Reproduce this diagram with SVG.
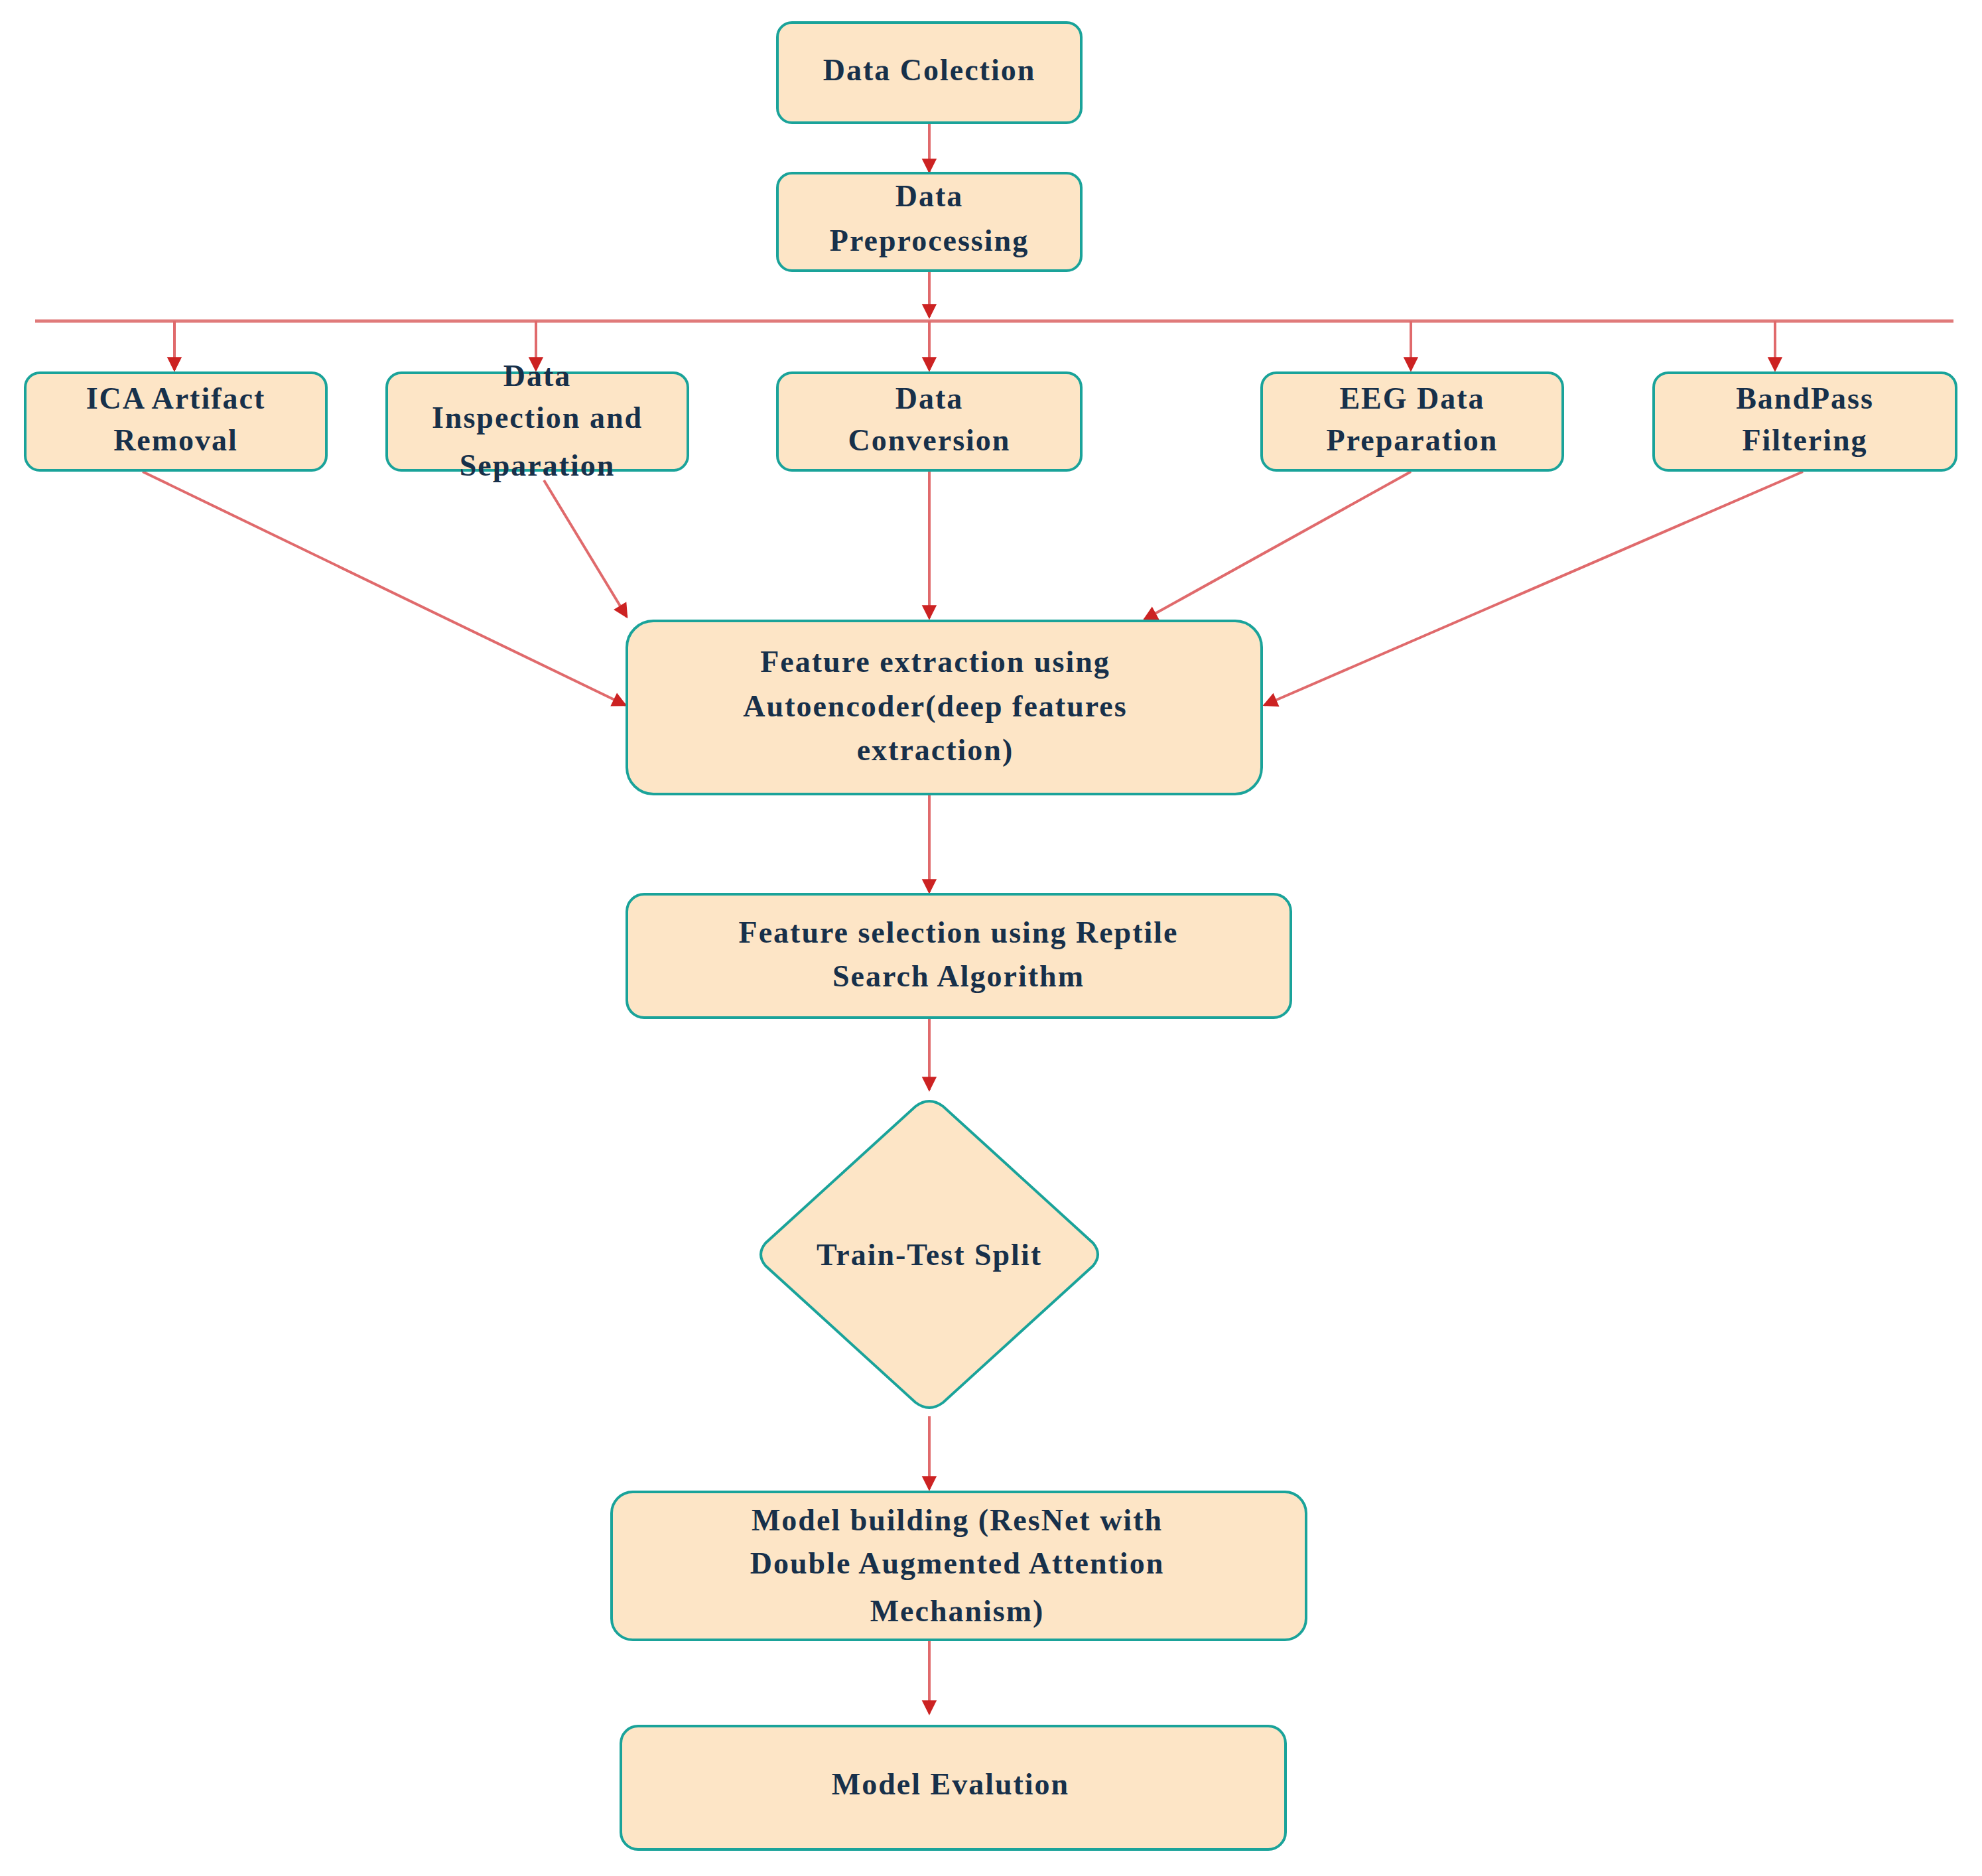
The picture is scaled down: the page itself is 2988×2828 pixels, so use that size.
<svg xmlns="http://www.w3.org/2000/svg" width="2988" height="2828" viewBox="0 0 2988 2828">
<style>
.n{fill:#fde5c6;stroke:#1aa39a;stroke-width:4}
.t{font-family:"Liberation Serif",serif;font-weight:bold;font-size:46px;fill:#17304a;text-anchor:middle;letter-spacing:2px}
.c{stroke:#e06a6c;stroke-width:4;fill:none;marker-end:url(#a)}
</style>
<defs><marker id="a" viewBox="0 0 10 10" refX="9" refY="5" markerWidth="7" markerHeight="7" orient="auto" markerUnits="userSpaceOnUse" style="overflow:visible"><path d="M0,0 L10,5 L0,10 z" fill="#cc2222" transform="scale(3.2) translate(-6,-3.4)"/></marker></defs>
<rect width="2988" height="2828" fill="#fff"/>
<g id="connectors">
<line x1="53" y1="484" x2="2945" y2="484" stroke="#e07a7a" stroke-width="5"/>
<line class="c" x1="1401" y1="185" x2="1401" y2="259"/>
<line class="c" x1="1401" y1="408" x2="1401" y2="478"/>
<line class="c" x1="263" y1="484" x2="263" y2="558"/>
<line class="c" x1="808" y1="484" x2="808" y2="558"/>
<line class="c" x1="1401" y1="484" x2="1401" y2="558"/>
<line class="c" x1="2127" y1="484" x2="2127" y2="558"/>
<line class="c" x1="2676" y1="484" x2="2676" y2="558"/>
<line class="c" x1="215" y1="711" x2="943" y2="1063"/>
<line class="c" x1="820" y1="724" x2="945" y2="930"/>
<line class="c" x1="1401" y1="709" x2="1401" y2="932"/>
<line class="c" x1="2127" y1="711" x2="1725" y2="934"/>
<line class="c" x1="2718" y1="711" x2="1906" y2="1063"/>
<line class="c" x1="1401" y1="1197" x2="1401" y2="1345"/>
<line class="c" x1="1401" y1="1534" x2="1401" y2="1643"/>
<line class="c" x1="1401" y1="2135" x2="1401" y2="2245"/>
<line class="c" x1="1401" y1="2472" x2="1401" y2="2583"/>
</g>
<g id="n1"><rect class="n" x="1172" y="34" width="458" height="151" rx="22"/><text class="t" x="1401" y="121">Data Colection</text></g>
<g id="n2"><rect class="n" x="1172" y="261" width="458" height="147" rx="22"/><text class="t" x="1401" y="311">Data</text><text class="t" x="1401" y="378">Preprocessing</text></g>
<g id="n3"><rect class="n" x="38" y="562" width="454" height="147" rx="22"/><text class="t" x="265" y="616">ICA Artifact</text><text class="t" x="265" y="679">Removal</text></g>
<g id="n4"><rect class="n" x="583" y="562" width="454" height="147" rx="22"/><text class="t" x="810" y="582">Data</text><text class="t" x="810" y="645">Inspection and</text><text class="t" x="810" y="717">Separation</text></g>
<g id="n5"><rect class="n" x="1172" y="562" width="458" height="147" rx="22"/><text class="t" x="1401" y="616">Data</text><text class="t" x="1401" y="679">Conversion</text></g>
<g id="n6"><rect class="n" x="1902" y="562" width="454" height="147" rx="22"/><text class="t" x="2129" y="616">EEG Data</text><text class="t" x="2129" y="679">Preparation</text></g>
<g id="n7"><rect class="n" x="2493" y="562" width="456" height="147" rx="22"/><text class="t" x="2721" y="616">BandPass</text><text class="t" x="2721" y="679">Filtering</text></g>
<g id="n8"><rect class="n" x="945" y="936" width="957" height="261" rx="40"/><text class="t" x="1410" y="1013">Feature extraction using</text><text class="t" x="1410" y="1080">Autoencoder(deep features</text><text class="t" x="1410" y="1146">extraction)</text></g>
<g id="n9"><rect class="n" x="945" y="1348" width="1001" height="186" rx="26"/><text class="t" x="1445" y="1421">Feature selection using Reptile</text><text class="t" x="1445" y="1487">Search Algorithm</text></g>
<g id="n10"><path class="n" d="M1380,1668 Q1401,1652 1422,1668 L1648,1874 Q1662,1891 1648,1908 L1422,2114 Q1401,2130 1380,2114 L1154,1908 Q1140,1891 1154,1874 Z"/><text class="t" x="1401" y="1907">Train-Test Split</text></g>
<g id="n11"><rect class="n" x="922" y="2249" width="1047" height="223" rx="32"/><text class="t" x="1443" y="2307">Model building (ResNet with</text><text class="t" x="1443" y="2372">Double Augmented Attention</text><text class="t" x="1443" y="2444">Mechanism)</text></g>
<g id="n12"><rect class="n" x="936" y="2602" width="1002" height="186" rx="26"/><text class="t" x="1433" y="2705">Model Evalution</text></g>
</svg>
